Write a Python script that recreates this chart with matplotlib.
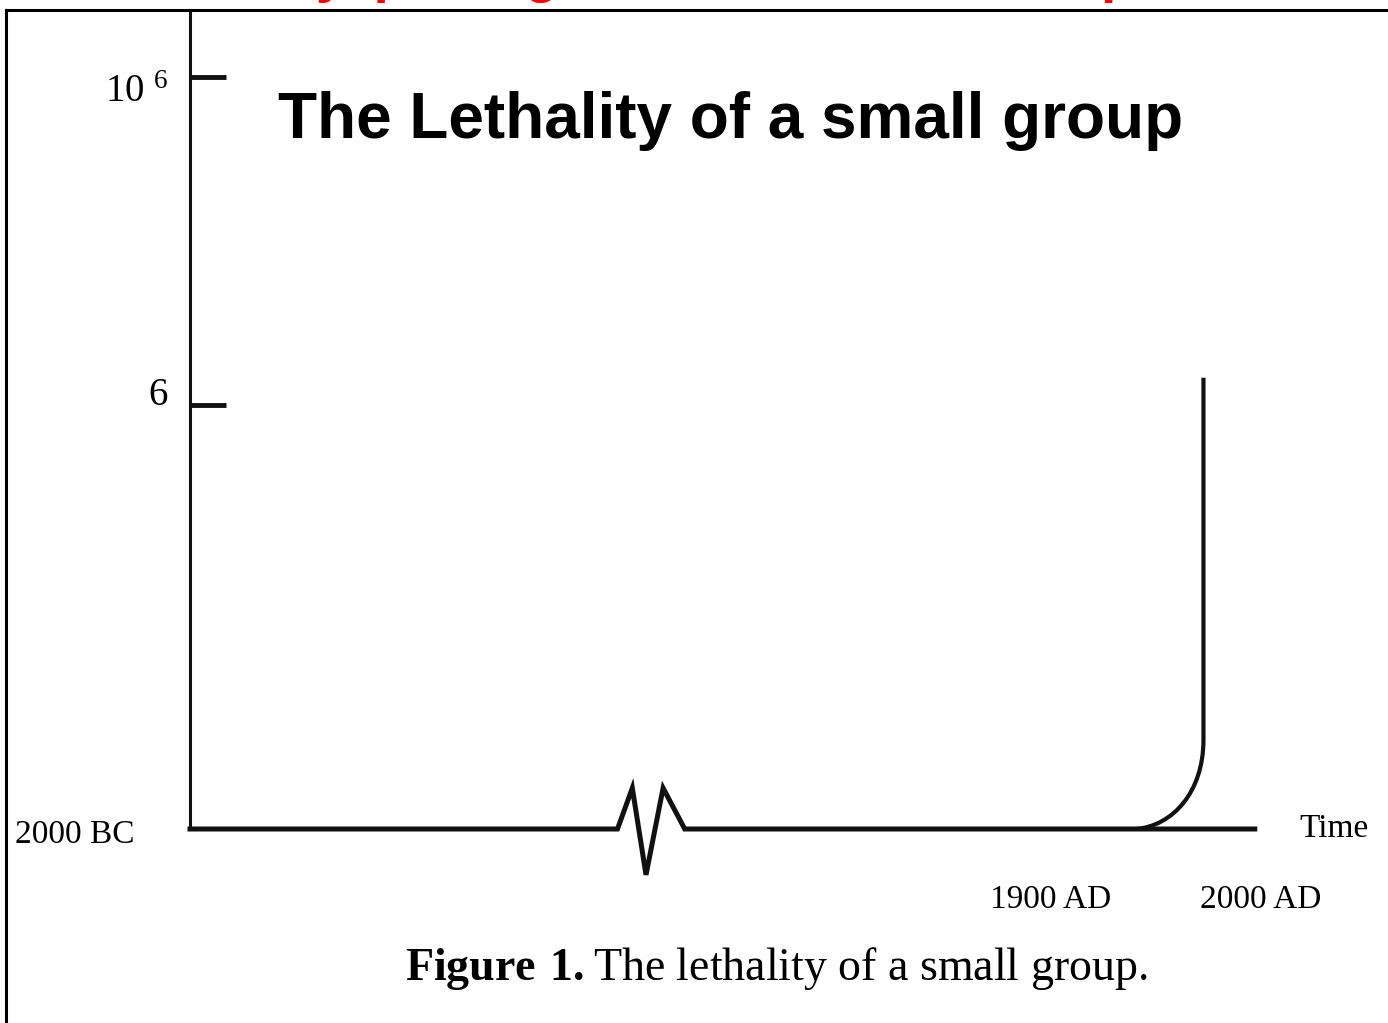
"""Schematic: the lethality of a small group over time."""

import matplotlib

matplotlib.use("Agg")
import matplotlib.pyplot as plt  # noqa: E402
from matplotlib.lines import Line2D  # noqa: E402
from matplotlib.patches import PathPatch  # noqa: E402
from matplotlib.path import Path  # noqa: E402
from matplotlib.transforms import ScaledTranslation  # noqa: E402

plt.rcParams["mathtext.fontset"] = "custom"
plt.rcParams["mathtext.rm"] = "Liberation Serif"
plt.rcParams["mathtext.bf"] = "Liberation Serif:bold"

# baseline with the axis break (schematic units, x 0..100, y 0..100)
base_x = [0, 37.5, 38.8, 40.0, 41.5, 43.4, 93.4]
base_y = [0, 0, 5.0, -5.6, 5.0, 0, 0]

# the take-off curve near the present: bezier start, two handles, bend end, top
rise_x = [83.0, 86.2, 88.9, 88.9, 88.9]
rise_y = [0, 0.4, 4.5, 10.9, 55.1]

y_ticks = [51.8, 91.8]
y_labels = ["6", r"$\mathregular{10^{\ 6}}$"]
x_ticks = [75.5, 93.9]
x_labels = ["1900 AD", "2000 AD"]

SERIF = "Liberation Serif"
SANS = "Liberation Sans"
INK = "#111111"

fig = plt.figure(figsize=(13.88, 10.23), dpi=100)
ax = fig.add_axes([190 / 1388, 194 / 1023, 1140 / 1388, 819 / 1023])
ax.set_xlim(0, 100)
ax.set_ylim(0, 100)

ax.plot(base_x, base_y, color=INK, lw=3.6, clip_on=False, solid_joinstyle="miter")
rise = Path(list(zip(rise_x, rise_y)),
            [Path.MOVETO, Path.CURVE4, Path.CURVE4, Path.CURVE4, Path.LINETO])
ax.add_patch(PathPatch(rise, fill=False, edgecolor=INK, lw=3.0, clip_on=False))

for s in ("top", "right", "bottom"):
    ax.spines[s].set_visible(False)
ax.spines["left"].set_linewidth(2.2)
ax.spines["left"].set_color(INK)

ax.set_yticks(y_ticks, y_labels, fontfamily=SERIF, fontsize=28)
ax.tick_params(axis="y", direction="in", length=26, width=3.5, color=INK, pad=16)
# nudge the y labels the way the scanned figure has them
shifts = [10, -8]
for lab, dy in zip(ax.get_yticklabels(), shifts):
    lab.set_transform(lab.get_transform() + ScaledTranslation(0, dy / 72, fig.dpi_scale_trans))
ax.set_xticks(x_ticks, x_labels, fontfamily=SERIF, fontsize=24)
ax.tick_params(axis="x", length=0, pad=40)

ax.annotate("2000 BC", (0, 0), xytext=(-40, -4), textcoords="offset points",
            ha="right", va="center", fontfamily=SERIF, fontsize=24)
ax.annotate("Time", (93.4, 0), xytext=(32, 0), textcoords="offset points",
            ha="left", va="center", fontfamily=SERIF, fontsize=24)

# slide frame and headings
fig.add_artist(Line2D([6 / 1388, 1], [1 - 10 / 1023] * 2, color="black", lw=2.2))
fig.add_artist(Line2D([6 / 1388] * 2, [0, 1 - 10 / 1023], color="black", lw=2.2))
fig.text(63 / 1388, 1 + 9 / 1023, "Doomsday, pathogens and nuclear weapons", color="red",
         fontfamily=SANS, fontweight="bold", fontsize=40, va="baseline")
fig.text(278 / 1388, 1 - 138 / 1023, "The Lethality of a small group",
         fontfamily=SANS, fontweight="bold", fontsize=46, va="baseline")
fig.text(776 / 1388, 1 - 968 / 1023,
         r"$\mathbf{Figure\ 1.}$The lethality of a small group.",
         fontfamily=SERIF, fontsize=33, ha="center", va="center")

fig.savefig("out.png", dpi=100)
